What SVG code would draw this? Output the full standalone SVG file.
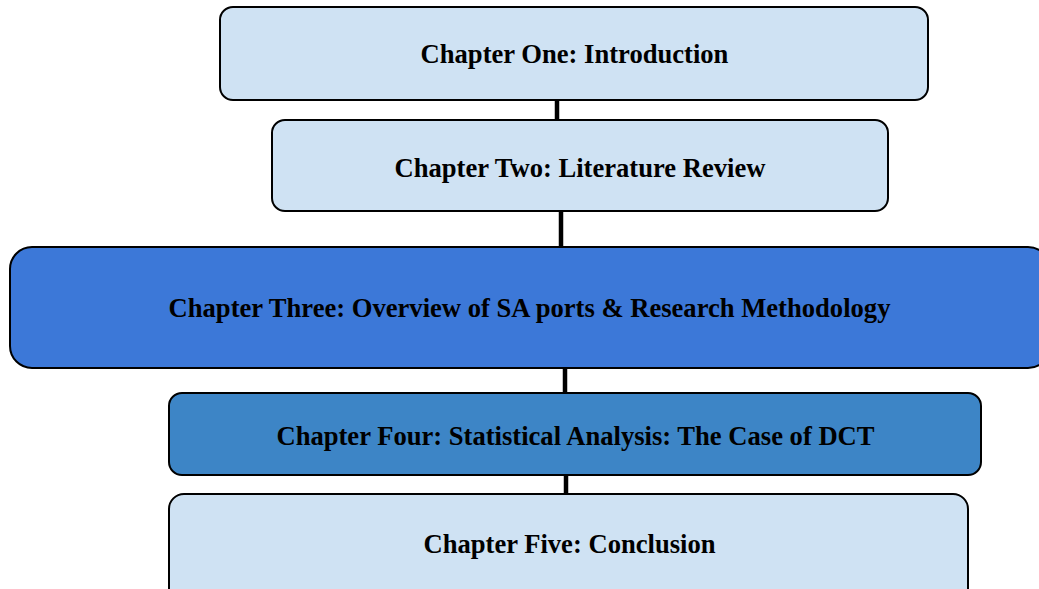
<svg xmlns="http://www.w3.org/2000/svg" width="1039" height="589" viewBox="0 0 1039 589">
<style>
.box{stroke:#000;stroke-width:2}
.light{fill:#CFE2F3}
.t{font-family:"Liberation Serif","Times New Roman",serif;font-weight:bold;font-size:26.6px;fill:#000;text-anchor:middle}
.c{stroke:#000;stroke-width:4.5;fill:none}
</style>
<rect width="1039" height="589" fill="#fff"/>
<g id="connectors">
<line class="c" x1="557" y1="100" x2="557" y2="119"/>
<line class="c" x1="561" y1="211" x2="561" y2="246"/>
<line class="c" x1="565" y1="367" x2="565" y2="393"/>
<line class="c" x1="566" y1="475" x2="566" y2="493"/>
</g>
<g id="n1">
<rect class="box light" x="220" y="7" width="708" height="93" rx="13"/>
<text class="t" x="574.5" y="63">Chapter One: Introduction</text>
</g>
<g id="n2">
<rect class="box light" x="272" y="120" width="616" height="91" rx="13"/>
<text class="t" x="580" y="177">Chapter Two: Literature Review</text>
</g>
<g id="n3">
<rect class="box" fill="#3C78D8" x="10" y="247" width="1040" height="121" rx="22"/>
<text class="t" x="529.5" y="317">Chapter Three: Overview of SA ports &amp; Research Methodology</text>
</g>
<g id="n4">
<rect class="box" fill="#3D85C6" x="169" y="393" width="812" height="82" rx="13"/>
<text class="t" x="575.5" y="445">Chapter Four: Statistical Analysis: The Case of DCT</text>
</g>
<g id="n5">
<rect class="box light" x="169" y="494" width="799" height="110" rx="15"/>
<text class="t" x="569.5" y="553">Chapter Five: Conclusion</text>
</g>
</svg>
